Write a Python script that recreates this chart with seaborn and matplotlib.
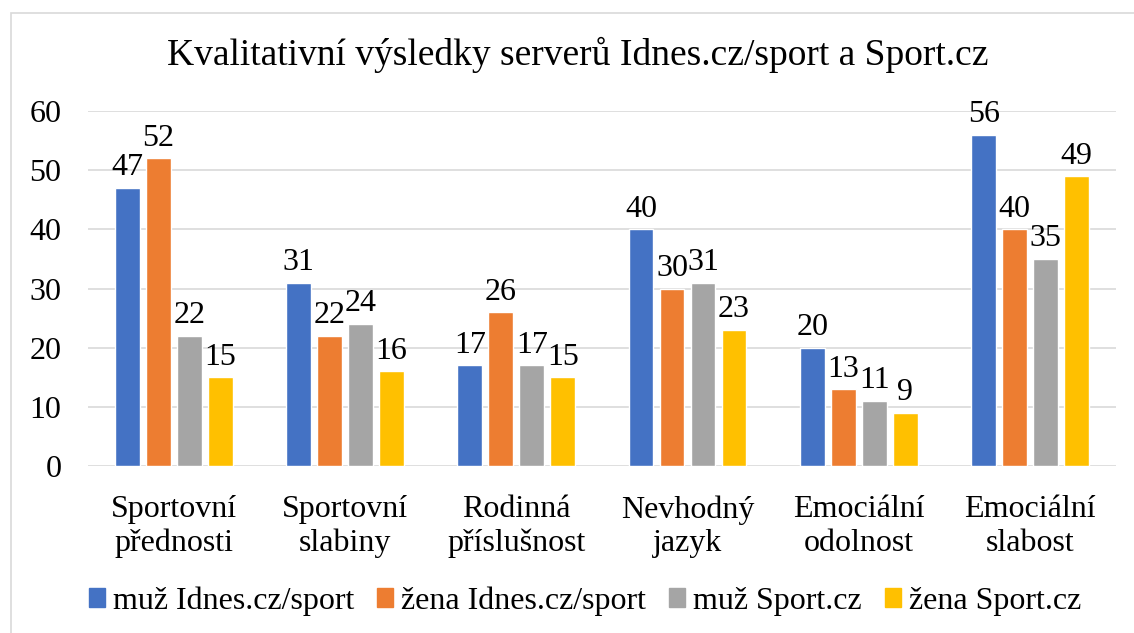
import pandas as pd
import seaborn as sns
import matplotlib.pyplot as plt
from matplotlib.patches import Rectangle

categories = ["Sportovní\npřednosti", "Sportovní\nslabiny", "Rodinná\npříslušnost",
              "Nevhodný\njazyk", "Emociální\nodolnost", "Emociální\nslabost"]
series = ["muž Idnes.cz/sport", "žena Idnes.cz/sport", "muž Sport.cz", "žena Sport.cz"]
muz_idnes = [47, 31, 17, 40, 20, 56]
zena_idnes = [52, 22, 26, 30, 13, 40]
muz_sport = [22, 24, 17, 31, 11, 35]
zena_sport = [15, 16, 15, 23, 9, 49]
colors = ["#4472C4", "#ED7D31", "#A5A5A5", "#FFC000"]

rows = []
for name, vals in zip(series, [muz_idnes, zena_idnes, muz_sport, zena_sport]):
    for cat, v in zip(categories, vals):
        rows.append({"kategorie": cat, "serie": name, "hodnota": v})
df = pd.DataFrame(rows)

sns.set_style("white")
plt.rcParams['font.family'] = ['Liberation Serif', 'DejaVu Serif']
plt.rcParams['text.color'] = 'black'
plt.rcParams['xtick.color'] = 'black'
plt.rcParams['ytick.color'] = 'black'

fig = plt.figure(figsize=(11.34, 6.33), dpi=100)
ax = fig.add_axes([0.0776, 0.2638, 0.9064, 0.5608])

sns.barplot(data=df, x="kategorie", y="hodnota", hue="serie", order=categories,
            hue_order=series, palette=colors, width=0.724, gap=0.2,
            saturation=1, errorbar=None, ax=ax, legend=False)

for cont in ax.containers:
    lbls = ax.bar_label(cont, fmt="%d", padding=4, fontsize=23)
    for t in lbls:
        t.set_clip_on(False)

ax.set_ylim(0, 60)
ax.set_xlim(-0.5, 5.5)
ax.set_yticks(range(0, 61, 10))
ax.yaxis.grid(True, color="#D9D9D9", linewidth=1.2)
ax.set_axisbelow(True)
for s in ax.spines.values():
    s.set_visible(False)
ax.tick_params(axis="y", length=0, pad=19, labelsize=23)
ax.tick_params(axis="x", length=0, pad=21, labelsize=23)
ax.set_xlabel("")
ax.set_ylabel("")

fig.text(578 / 1134, 1 - 55 / 633, "Kvalitativní výsledky serverů Idnes.cz/sport a Sport.cz",
         ha="center", va="center", fontsize=27)

handles = [Rectangle((0, 0), 1, 1, color=c) for c in colors]
fig.legend(handles, series, loc="center", bbox_to_anchor=(585 / 1134, 1 - 601 / 633),
           ncol=4, frameon=False, fontsize=23, handlelength=0.5, handleheight=0.5,
           handletextpad=0.25, columnspacing=0.72)

fig.patches.append(Rectangle((11 / 1134, -0.1), 1.2, 1 - 13 / 633 + 0.1,
                             transform=fig.transFigure, fill=False,
                             edgecolor="#D9D9D9", linewidth=1.2))

fig.savefig("out.png", dpi=100)
